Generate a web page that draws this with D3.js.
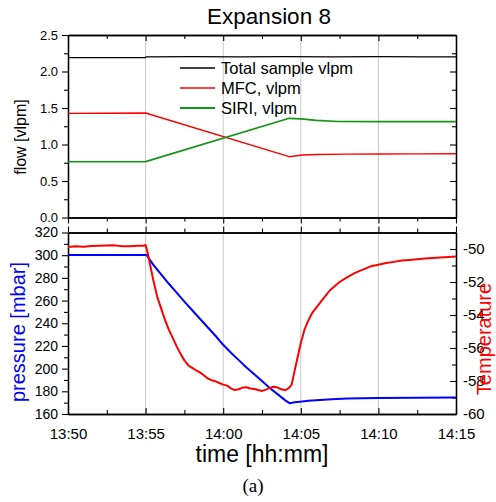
<!DOCTYPE html>
<html>
<head>
<meta charset="utf-8">
<script src="https://cdn.jsdelivr.net/npm/d3@7"></script>
<style>
  html, body { margin: 0; padding: 0; background: #fff; }
  svg { display: block; }
  text { font-family: "Liberation Sans", Arial, sans-serif; }
</style>
</head>
<body>
<svg id="chart" width="496" height="502"></svg>
<script>
// ---------- DATA (time = minutes after 13:50) ----------
const totalTime = [0, 4.95, 5.05, 8, 11, 14, 17, 20, 23, 25];
const totalFlow = [2.19, 2.19, 2.20, 2.205, 2.20, 2.205, 2.20, 2.205, 2.20, 2.20];

const mfcTime = [0, 2.5, 5, 14.25, 15.1, 16, 18, 20, 22.5, 25];
const mfcFlow = [1.427, 1.428, 1.432, 0.833, 0.856, 0.862, 0.868, 0.870, 0.872, 0.874];

const siriTime = [0, 2.5, 5, 14.25, 15, 16, 17.4, 20, 22.5, 25];
const siriFlow = [0.764, 0.764, 0.766, 1.359, 1.35, 1.33, 1.315, 1.313, 1.312, 1.312];

const pressTime = [0, 5, 5.07, 5.5, 6, 6.5, 7, 7.5, 8, 8.5, 9, 9.5, 10, 10.5, 11, 11.5, 12, 12.5, 13, 13.5, 14, 14.3,
                   14.6, 14.95, 15.5, 16.24, 17, 18, 20, 22.5, 25];
const pressVal  = [300.2, 300.2, 300.0, 291.5, 283.0, 274.8, 267.0, 259.0, 251.5, 244.0, 236.5, 229.0, 221.0, 214.0, 207.5, 201.0, 195.0, 189.0, 183.0, 177.5, 172.0, 169.4,
                   170.3, 170.9, 171.6, 172.4, 173.0, 173.6, 174.1, 174.4, 174.5];

const tempTime = [0, 0.5, 1, 1.5, 2, 2.5, 3, 3.5, 4, 4.5, 4.9,
  5.0, 5.15, 5.3, 5.5, 5.75, 6.0, 6.25, 6.5, 6.78, 7.0, 7.25, 7.5, 7.75, 8.0, 8.25, 8.5, 8.75, 9.0, 9.25, 9.5, 9.75,
  10.0, 10.25, 10.5, 10.75, 11.0, 11.25, 11.5, 11.75, 12.0, 12.25, 12.5, 12.75, 13.0, 13.25, 13.5, 13.75, 14.0, 14.2, 14.4,
  14.55, 14.75, 15.0, 15.25, 15.5, 15.75, 16.0, 16.25, 16.5, 16.88, 17.25, 17.5, 18.0, 18.5, 19.0, 19.5, 20.0, 20.5,
  21.0, 21.5, 22.0, 22.5, 23.0, 23.5, 24.0, 24.5, 25.0];
const tempVal = [-49.88, -49.84, -49.86, -49.82, -49.80, -49.79, -49.78, -49.83, -49.84, -49.81, -49.80,
  -49.75, -50.3, -51.0, -51.9, -52.9, -53.6, -54.3, -54.9, -55.45, -55.9, -56.35, -56.75, -57.05, -57.2, -57.35, -57.48, -57.65, -57.85, -57.95, -58.02, -58.12,
  -58.22, -58.28, -58.45, -58.55, -58.5, -58.4, -58.38, -58.45, -58.48, -58.55, -58.6, -58.52, -58.42, -58.35, -58.4, -58.5, -58.56, -58.45, -58.25,
  -57.6, -56.75, -55.7, -54.85, -54.3, -53.85, -53.55, -53.25, -52.95, -52.5, -52.2, -52.0, -51.7, -51.45, -51.25, -51.05, -50.95, -50.85,
  -50.78, -50.7, -50.66, -50.62, -50.58, -50.55, -50.51, -50.49, -50.46];

const flowTicks = [0, 0.5, 1.0, 1.5, 2.0, 2.5];
const pressTicks = [160, 180, 200, 220, 240, 260, 280, 300, 320];
const tempTicks = [-60, -58, -56, -54, -52, -50];
const timeTickMinutes = [0, 5, 10, 15, 20, 25];

const legendLabels = ["Total sample vlpm", "MFC, vlpm", "SIRI, vlpm"];
const flowColors = ["#000000", "#ff0000", "#159415"];

// ---------- LAYOUT ----------
const svg = d3.select("#chart");
const X0 = 68, X1 = 456;
const top1 = 35, bot1 = 217.5;
const top2 = 232.5, bot2 = 414;

const base = new Date(2000, 0, 1, 13, 50);
const toDate = m => new Date(base.getTime() + m * 60000);

const x = d3.scaleTime().domain([toDate(0), toDate(25)]).range([X0, X1]);
const yFlow = d3.scaleLinear().domain([0, 2.5]).range([bot1, top1]);
const yP = d3.scaleLinear().domain([160, 320]).range([bot2, top2]);
const yT = d3.scaleLinear().domain([-60, -49]).range([bot2, top2]);

const majorX = timeTickMinutes.map(toDate);
const minorX = d3.range(0, 25.01, 2.5).filter(m => m % 5 !== 0).map(toDate);
const fmt = d3.timeFormat("%H:%M");

// gridlines
[[top1, bot1], [top2, bot2]].forEach(([t, b]) => {
  svg.append("g").selectAll("line").data([5, 10, 15, 20].map(toDate)).join("line")
    .attr("x1", d => x(d)).attr("x2", d => x(d))
    .attr("y1", t).attr("y2", b)
    .attr("stroke", "#c8c8c8").attr("stroke-width", 1);
});

function styleAxis(g, fontSize) {
  g.selectAll("path").attr("stroke", "#000").attr("stroke-width", 1.3);
  g.selectAll("line").attr("stroke", "#000").attr("stroke-width", 1.1);
  g.selectAll("text").attr("fill", "#000").style("font-size", fontSize + "px")
    .style("font-family", '"Liberation Sans", Arial, sans-serif');
}

function xAxes(t, b, labels) {
  const inwardTop = (t === top1);
  const gt = svg.append("g").attr("transform", `translate(0,${t})`);
  gt.call(d3.axisTop(x).tickValues(majorX).tickSize(inwardTop ? -6 : 6).tickSizeOuter(0).tickFormat(""));
  styleAxis(gt, 12);
  const gtm = svg.append("g").attr("transform", `translate(0,${t})`);
  gtm.call(d3.axisTop(x).tickValues(minorX).tickSize(inwardTop ? -4 : 4).tickSizeOuter(0).tickFormat(""));
  styleAxis(gtm, 12);
  const inwardBot = (b === bot2);
  const gb = svg.append("g").attr("transform", `translate(0,${b})`);
  gb.call(d3.axisBottom(x).tickValues(majorX).tickSize(inwardBot ? -6 : 6).tickSizeOuter(0)
    .tickPadding(inwardBot ? 14 : 3).tickFormat(labels ? fmt : ""));
  styleAxis(gb, 15);
  const gbm = svg.append("g").attr("transform", `translate(0,${b})`);
  gbm.call(d3.axisBottom(x).tickValues(minorX).tickSize(inwardBot ? -4 : 4).tickSizeOuter(0).tickFormat(""));
  styleAxis(gbm, 12);
}
xAxes(top1, bot1, false);
xAxes(top2, bot2, true);

// top panel y axes
const flowMinor = [0.25, 0.75, 1.25, 1.75, 2.25];
const gfl = svg.append("g").attr("transform", `translate(${X0},0)`);
gfl.call(d3.axisLeft(yFlow).tickValues(flowTicks).tickSize(6).tickSizeOuter(0).tickPadding(4).tickFormat(d3.format(".1f")));
styleAxis(gfl, 13);
const gflm = svg.append("g").attr("transform", `translate(${X0},0)`);
gflm.call(d3.axisLeft(yFlow).tickValues(flowMinor).tickSize(4).tickSizeOuter(0).tickFormat(""));
styleAxis(gflm, 12);
const gfr = svg.append("g").attr("transform", `translate(${X1},0)`);
gfr.call(d3.axisRight(yFlow).tickValues(flowTicks).tickSize(-6).tickSizeOuter(0).tickFormat(""));
styleAxis(gfr, 12);
const gfrm = svg.append("g").attr("transform", `translate(${X1},0)`);
gfrm.call(d3.axisRight(yFlow).tickValues(flowMinor).tickSize(-4).tickSizeOuter(0).tickFormat(""));
styleAxis(gfrm, 12);

// bottom panel y axes
const gpl = svg.append("g").attr("transform", `translate(${X0},0)`);
gpl.call(d3.axisLeft(yP).tickValues(pressTicks).tickSize(6).tickSizeOuter(0).tickPadding(4));
styleAxis(gpl, 14);
const gplm = svg.append("g").attr("transform", `translate(${X0},0)`);
gplm.call(d3.axisLeft(yP).tickValues(d3.range(170, 320, 20)).tickSize(4).tickSizeOuter(0).tickFormat(""));
styleAxis(gplm, 12);
const gtr = svg.append("g").attr("transform", `translate(${X1},0)`);
gtr.call(d3.axisRight(yT).tickValues(tempTicks).tickSize(-6).tickSizeOuter(0).tickPadding(7).tickFormat(d => String(d).replace("\u2212", "-")));
styleAxis(gtr, 15);
const gtrm = svg.append("g").attr("transform", `translate(${X1},0)`);
gtrm.call(d3.axisRight(yT).tickValues([-59, -57, -55, -53, -51, -49]).tickSize(-4).tickSizeOuter(0).tickFormat(""));
styleAxis(gtrm, 12);

// ---------- LINES ----------
function drawLine(times, vals, yScale, color, width) {
  const data = times.map((t, i) => [toDate(t), vals[i]]);
  svg.append("path").datum(data)
    .attr("fill", "none").attr("stroke", color).attr("stroke-width", width)
    .attr("stroke-linejoin", "round")
    .attr("d", d3.line().x(d => x(d[0])).y(d => yScale(d[1])));
}
drawLine(totalTime, totalFlow, yFlow, flowColors[0], 1.2);
drawLine(mfcTime, mfcFlow, yFlow, flowColors[1], 1.4);
drawLine(siriTime, siriFlow, yFlow, flowColors[2], 1.7);

drawLine(pressTime, pressVal, yP, "#0000ff", 2);
drawLine(tempTime, tempVal, yT, "#ff0000", 2);

// ---------- LEGEND ----------
const legendY = [68, 88, 108];
legendLabels.forEach((lab, i) => {
  svg.append("line").attr("x1", 180).attr("x2", 215)
    .attr("y1", legendY[i]).attr("y2", legendY[i])
    .attr("stroke", flowColors[i]).attr("stroke-width", i === 2 ? 2 : 1.3);
  svg.append("text").attr("x", 221).attr("y", legendY[i] + 6)
    .style("font-size", "16.5px").attr("fill", "#000").text(lab);
});

// ---------- TEXTS ----------
svg.append("text").attr("x", 269).attr("y", 24).attr("text-anchor", "middle")
  .style("font-size", "22.5px").attr("fill", "#000").text("Expansion 8");

svg.append("text").attr("transform", "translate(26,137) rotate(-90)")
  .attr("text-anchor", "middle").style("font-size", "16px").attr("fill", "#000").text("flow [vlpm]");

svg.append("text").attr("transform", "translate(25,332) rotate(-90)")
  .attr("text-anchor", "middle").style("font-size", "20px").attr("fill", "#0000ff").text("pressure [mbar]");

svg.append("text").attr("transform", "translate(491,339) rotate(-90)")
  .attr("text-anchor", "middle").style("font-size", "20px").attr("fill", "#ff0000").text("Temperature");

svg.append("text").attr("x", 262).attr("y", 462).attr("text-anchor", "middle")
  .style("font-size", "23px").attr("fill", "#000").text("time [hh:mm]");

svg.append("text").attr("x", 253).attr("y", 492).attr("text-anchor", "middle")
  .style("font-size", "19px").style("font-family", '"Liberation Serif", "DejaVu Serif", serif')
  .attr("fill", "#000").text("(a)");
</script>
</body>
</html>
